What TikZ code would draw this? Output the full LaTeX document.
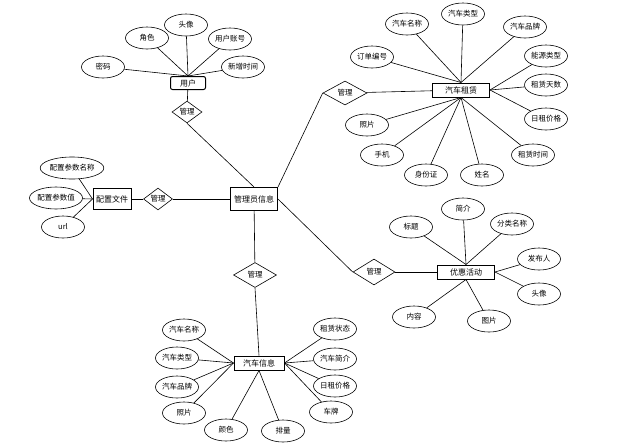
\documentclass[tikz,border=0pt]{standalone}
\usepackage{fontspec}
\setmainfont{Noto Sans CJK SC}
\usetikzlibrary{shapes.geometric}
\tikzset{
  entity/.style={draw,line width=1pt,minimum height=14,inner sep=1,font=\fontsize{8}{9}\selectfont},
  attr/.style={draw,ellipse,inner sep=0,minimum width=43,minimum height=22,font=\fontsize{7.5}{9}\selectfont},
  rel/.style={draw,diamond,inner sep=0,font=\fontsize{7.5}{9}\selectfont}
}
\begin{document}
\begin{tikzpicture}[x=1pt,y=-1pt,line width=0.6pt]
\useasboundingbox (0,0) rectangle (631,445);

% user
\node[entity,rounded corners=2,minimum width=35,minimum height=13] (user) at (188,83) {用户};
\node[attr] (u1) at (103,67) {密码};
\node[attr] (u2) at (147,38) {角色};
\node[attr] (u3) at (186,25) {头像};
\node[attr] (u4) at (230,39) {用户账号};
\node[attr] (u5) at (243,67) {新增时间};
\draw (u1) -- (user.north);
\draw (u2) -- (user.north);
\draw (u3) -- (user.north);
\draw (u4) -- (user.north);
\draw (u5) -- (user.north);
\node[rel,minimum width=30,minimum height=20] (r1) at (187,112) {管理};
\draw (user) -- (r1);

% admin
\node[entity,minimum width=47,minimum height=23] (admin) at (254,199) {管理员信息};
\draw (r1.south) -- (admin.north);

% car rental
\node[rel,minimum width=44,minimum height=24] (r2) at (345,93) {管理};
\draw (admin.north east) -- (r2.west);
\node[entity,minimum width=57] (rent) at (461,90) {汽车租赁};
\draw (r2) -- (rent);
\node[attr] (c1) at (407,24)  {汽车名称};
\node[attr] (c2) at (463,14)  {汽车类型};
\node[attr] (c3) at (525,27)  {汽车品牌};
\node[attr] (c4) at (372,57)  {订单编号};
\node[attr] (c5) at (546,56)  {能源类型};
\node[attr] (c6) at (546,85)  {租赁天数};
\node[attr] (c7) at (546,119) {日租价格};
\node[attr] (c8) at (367,125) {照片};
\node[attr] (c9) at (382,155) {手机};
\node[attr] (c10) at (426,175) {身份证};
\node[attr] (c11) at (482,175) {姓名};
\node[attr] (c12) at (533,155) {租赁时间};
\draw (c1) -- (rent.north);
\draw (c2) -- (rent.north);
\draw (c3) -- (rent.north);
\draw (c4) -- (rent.north);
\draw (c5) -- (rent.east);
\draw (c6) -- (rent.east);
\draw (c7) -- (rent.east);
\draw (c8) -- (rent.south);
\draw (c9) -- (rent.south);
\draw (c10) -- (rent.south);
\draw (c11) -- (rent.south);
\draw (c12) -- (rent.south);

% config
\node[entity,minimum width=38,minimum height=21] (conf) at (112,199) {配置文件};
\node[attr] (f1) at (72,168) {配置参数名称};
\node[attr] (f2) at (56,198) {配置参数值};
\node[attr] (f3) at (63,227) {url};
\draw (f1) -- (conf.west);
\draw (f2) -- (conf.west);
\draw (f3) -- (conf.west);
\node[rel,minimum width=29,minimum height=16] (r3) at (158,199) {管理};
\draw (conf) -- (r3);
\draw (r3) -- (admin);

% promotion
\node[rel,minimum width=42,minimum height=26] (r4) at (374,272) {管理};
\draw (admin.east) -- (r4.west);
\node[entity,minimum width=57] (promo) at (466,272) {优惠活动};
\draw (r4) -- (promo);
\node[attr] (p1) at (411,227) {标题};
\node[attr] (p2) at (463,209) {简介};
\node[attr] (p3) at (512,224) {分类名称};
\node[attr] (p4) at (539,259) {发布人};
\node[attr] (p5) at (539,294) {头像};
\node[attr] (p6) at (414,317) {内容};
\node[attr] (p7) at (489,321) {图片};
\draw (p1) -- (promo.north);
\draw (p2) -- (promo.north);
\draw (p3) -- (promo.north);
\draw (p4) -- (promo.east);
\draw (p5) -- (promo.east);
\draw (p6) -- (promo.south);
\draw (p7) -- (promo.south);

% car info
\node[rel,minimum width=43,minimum height=25] (r5) at (255,275) {管理};
\draw (admin) -- (r5);
\node[entity,minimum width=50] (car) at (259,363) {汽车信息};
\draw (r5.south) -- (car.north);
\node[attr] (i1) at (184,330) {汽车名称};
\node[attr] (i2) at (177,358) {汽车类型};
\node[attr] (i3) at (177,387) {汽车品牌};
\node[attr] (i4) at (184,413) {照片};
\node[attr] (i5) at (226,430) {颜色};
\node[attr] (i6) at (283,431) {排量};
\node[attr] (i7) at (335,329) {租赁状态};
\node[attr] (i8) at (335,359) {汽车简介};
\node[attr] (i9) at (335,386) {日租价格};
\node[attr] (i10) at (331,412) {车牌};
\draw (i1) -- (car.west);
\draw (i2) -- (car.west);
\draw (i3) -- (car.west);
\draw (i4) -- (car.west);
\draw (i5) -- (car.south);
\draw (i6) -- (car.south);
\draw (i7) -- (car.east);
\draw (i8) -- (car.east);
\draw (i9) -- (car.east);
\draw (i10) -- (car.east);
\end{tikzpicture}
\end{document}
